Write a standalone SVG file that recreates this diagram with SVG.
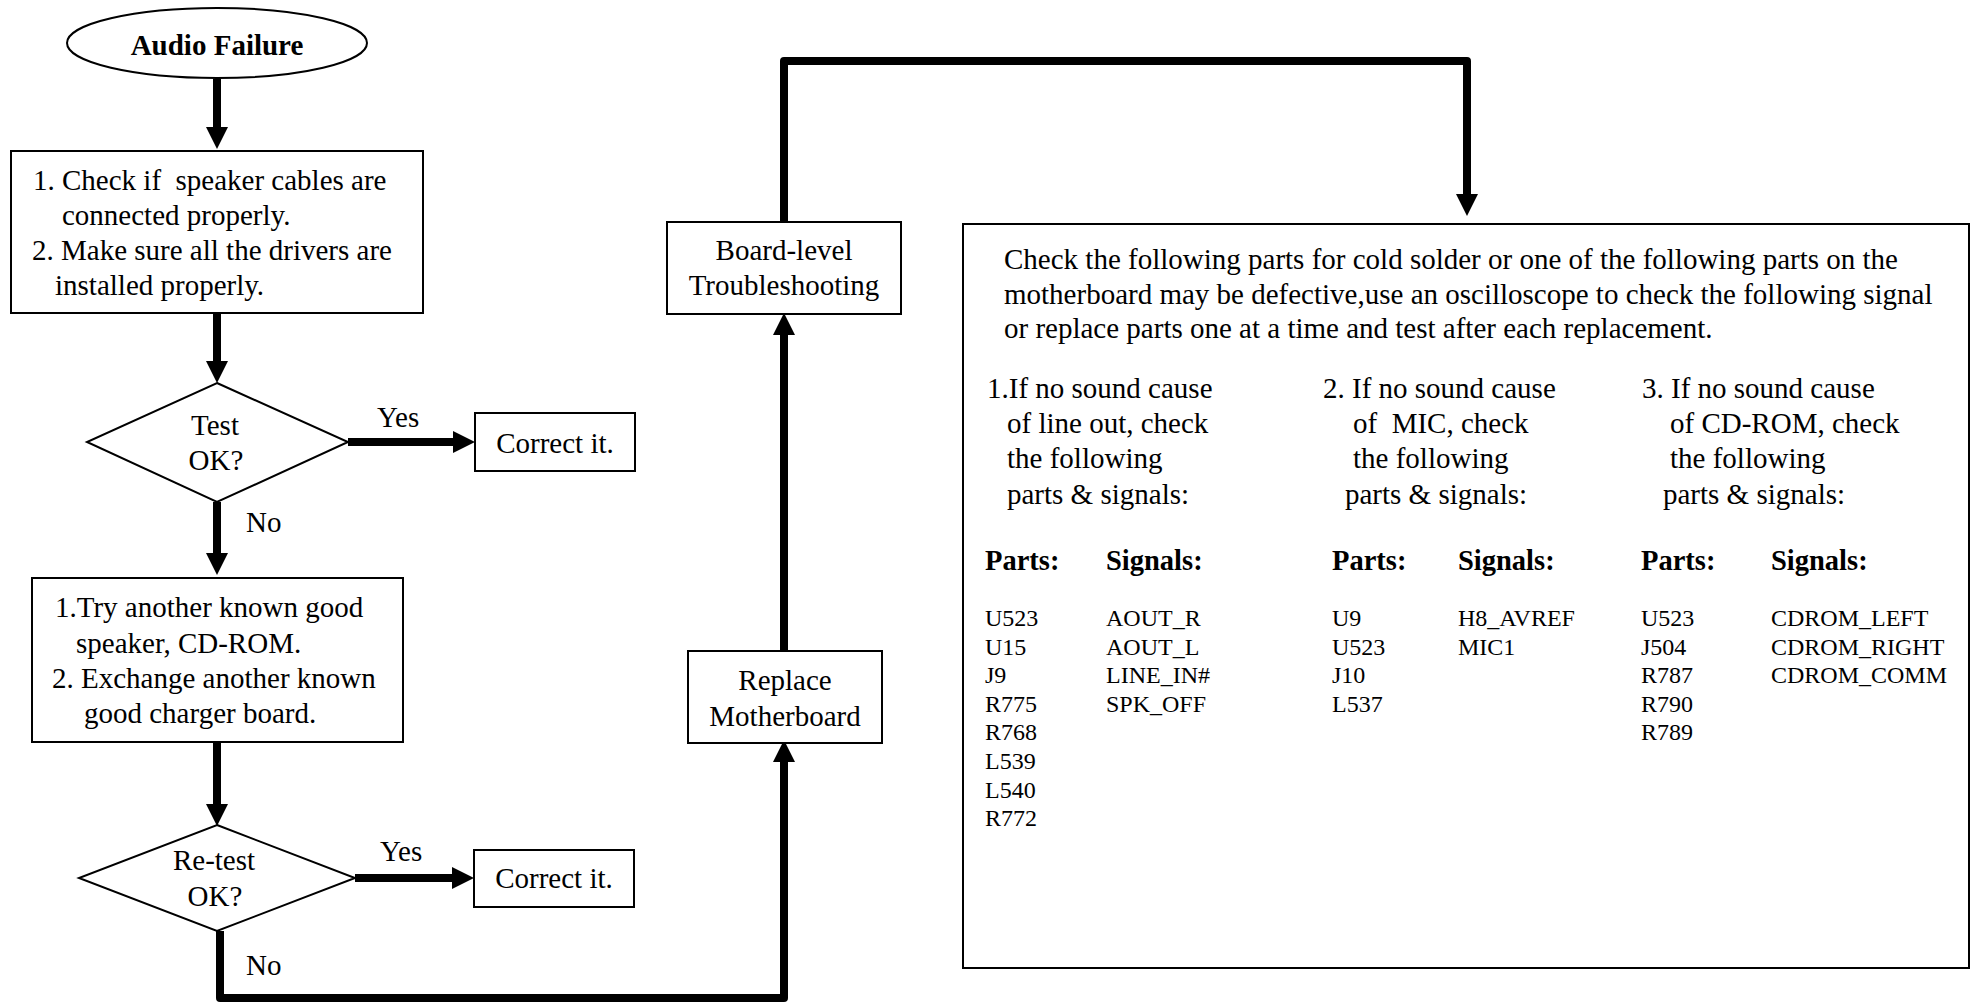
<svg xmlns="http://www.w3.org/2000/svg" width="1975" height="1005" viewBox="0 0 1975 1005">
<defs>
<style>
.t{font-family:"Liberation Serif","Times New Roman",serif;font-size:29px;fill:#000}
.b{font-weight:bold}
.s{font-family:"Liberation Serif","Times New Roman",serif;font-size:24px;fill:#000}
.h{font-family:"Liberation Serif","Times New Roman",serif;font-size:28.5px;font-weight:bold;fill:#000}
.c{text-anchor:middle}
.shape{fill:#fff;stroke:#000;stroke-width:2}
.conn{fill:none;stroke:#000;stroke-width:8;stroke-linejoin:round;marker-end:url(#ah)}
</style>
<marker id="ah" markerUnits="userSpaceOnUse" markerWidth="22" markerHeight="24" refX="0" refY="11" orient="auto" viewBox="0 0 22 22" overflow="visible">
<path d="M0,0 L22,11 L0,22 Z" fill="#000"/>
</marker>
</defs>
<rect width="1975" height="1005" fill="#fff"/>

<g id="connectors">
<path class="conn" d="M217,79 V127"/>
<path class="conn" d="M217,313 V361"/>
<path class="conn" d="M348,442 H453"/>
<path class="conn" d="M217,502 V553"/>
<path class="conn" d="M217,742 V804"/>
<path class="conn" d="M355,878 H452"/>
<path class="conn" d="M220,931 V998 H784 V762"/>
<path class="conn" d="M784,651 V335"/>
<path class="conn" d="M784,222 V61 H1467 V194"/>
</g>

<g id="start">
<ellipse class="shape" cx="217" cy="43" rx="150" ry="35"/>
<text class="t b c" x="217" y="55">Audio Failure</text>
</g>

<g id="check-cables">
<rect class="shape" x="11" y="151" width="412" height="162"/>
<text class="t" x="33" y="190" xml:space="preserve">1. Check if  speaker cables are</text>
<text class="t" x="62" y="225">connected properly.</text>
<text class="t" x="32" y="260">2. Make sure all the drivers are</text>
<text class="t" x="55" y="295">installed properly.</text>
</g>

<g id="test-ok">
<polygon class="shape" points="217,383 348,442 217,502 87,442"/>
<text class="t c" x="215" y="435">Test</text>
<text class="t c" x="216" y="470">OK?</text>
</g>

<g id="yes-label-1"><text class="t" x="377" y="427">Yes</text></g>

<g id="correct-1">
<rect class="shape" x="475" y="413" width="160" height="58"/>
<text class="t c" x="555" y="453">Correct it.</text>
</g>

<g id="no-label-1"><text class="t" x="246" y="532">No</text></g>

<g id="try-another">
<rect class="shape" x="32" y="578" width="371" height="164"/>
<text class="t" x="55" y="617">1.Try another known good</text>
<text class="t" x="76" y="653">speaker, CD-ROM.</text>
<text class="t" x="52" y="688">2. Exchange another known</text>
<text class="t" x="84" y="723">good charger board.</text>
</g>

<g id="retest-ok">
<polygon class="shape" points="217,825 355,878 217,931 79,878"/>
<text class="t c" x="214" y="870">Re-test</text>
<text class="t c" x="215" y="906">OK?</text>
</g>

<g id="yes-label-2"><text class="t" x="380" y="861">Yes</text></g>

<g id="correct-2">
<rect class="shape" x="474" y="850" width="160" height="57"/>
<text class="t c" x="554" y="888">Correct it.</text>
</g>

<g id="no-label-2"><text class="t" x="246" y="975">No</text></g>

<g id="replace-mb">
<rect class="shape" x="688" y="651" width="194" height="92"/>
<text class="t c" x="785" y="690">Replace</text>
<text class="t c" x="785" y="726">Motherboard</text>
</g>

<g id="board-level">
<rect class="shape" x="667" y="222" width="234" height="92"/>
<text class="t c" x="784" y="260">Board-level</text>
<text class="t c" x="784" y="295">Troubleshooting</text>
</g>

<g id="parts-panel">
<rect class="shape" x="963" y="224" width="1006" height="744"/>
<text class="t" x="1004" y="269">Check the following parts for cold solder or one of the following parts on the</text>
<text class="t" x="1004" y="304">motherboard may be defective,use an oscilloscope to check the following signal</text>
<text class="t" x="1004" y="338">or replace parts one at a time and test after each replacement.</text>

<text class="t" x="987" y="398">1.If no sound cause</text>
<text class="t" x="1007" y="433">of line out, check</text>
<text class="t" x="1007" y="468">the following</text>
<text class="t" x="1007" y="504">parts &amp; signals:</text>

<text class="t" x="1323" y="398">2. If no sound cause</text>
<text class="t" x="1353" y="433" xml:space="preserve">of  MIC, check</text>
<text class="t" x="1353" y="468">the following</text>
<text class="t" x="1345" y="504">parts &amp; signals:</text>

<text class="t" x="1642" y="398">3. If no sound cause</text>
<text class="t" x="1670" y="433">of CD-ROM, check</text>
<text class="t" x="1670" y="468">the following</text>
<text class="t" x="1663" y="504">parts &amp; signals:</text>

<text class="h" x="985" y="570">Parts:</text>
<text class="h" x="1106" y="570">Signals:</text>
<text class="h" x="1332" y="570">Parts:</text>
<text class="h" x="1458" y="570">Signals:</text>
<text class="h" x="1641" y="570">Parts:</text>
<text class="h" x="1771" y="570">Signals:</text>

<text class="s" x="985" y="626">U523</text>
<text class="s" x="985" y="654.6">U15</text>
<text class="s" x="985" y="683.2">J9</text>
<text class="s" x="985" y="711.8">R775</text>
<text class="s" x="985" y="740.4">R768</text>
<text class="s" x="985" y="769">L539</text>
<text class="s" x="985" y="797.6">L540</text>
<text class="s" x="985" y="826.2">R772</text>

<text class="s" x="1106" y="626">AOUT_R</text>
<text class="s" x="1106" y="654.6">AOUT_L</text>
<text class="s" x="1106" y="683.2">LINE_IN#</text>
<text class="s" x="1106" y="711.8">SPK_OFF</text>

<text class="s" x="1332" y="626">U9</text>
<text class="s" x="1332" y="654.6">U523</text>
<text class="s" x="1332" y="683.2">J10</text>
<text class="s" x="1332" y="711.8">L537</text>

<text class="s" x="1458" y="626">H8_AVREF</text>
<text class="s" x="1458" y="654.6">MIC1</text>

<text class="s" x="1641" y="626">U523</text>
<text class="s" x="1641" y="654.6">J504</text>
<text class="s" x="1641" y="683.2">R787</text>
<text class="s" x="1641" y="711.8">R790</text>
<text class="s" x="1641" y="740.4">R789</text>

<text class="s" x="1771" y="626">CDROM_LEFT</text>
<text class="s" x="1771" y="654.6">CDROM_RIGHT</text>
<text class="s" x="1771" y="683.2">CDROM_COMM</text>
</g>
</svg>
